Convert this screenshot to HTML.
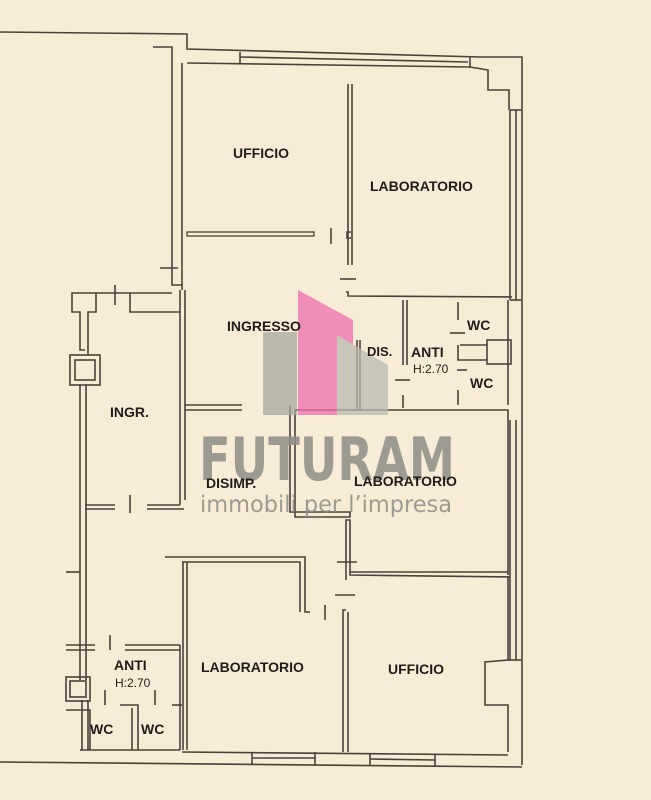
<!DOCTYPE html>
<html><head><style>
html,body{margin:0;padding:0;background:#f8ecd6;}
svg{display:block;}
text{font-family:"Liberation Sans",Arial,sans-serif;}
</style></head><body>
<svg width="651" height="800" viewBox="0 0 651 800">
<rect width="651" height="800" fill="#f8ecd6"/>
<g fill="none" stroke="#4e4038" stroke-width="1.6">
<polyline points="0,32 187,34 187,49 480,57 522,57 522,765"/>
<polyline points="153,47 172,47 172,285 182,285 182,290"/>
<polyline points="187,63 470,67 488,70 488,90 509,90 509,110"/>
<line x1="240" y1="52" x2="240" y2="64"/>
<line x1="240" y1="57" x2="468" y2="62"/>
<line x1="470" y1="57" x2="470" y2="67"/>
<line x1="182" y1="63" x2="182" y2="285"/>
<line x1="510" y1="110" x2="510" y2="300"/>
<line x1="516" y1="110" x2="516" y2="300"/>
<line x1="510" y1="110" x2="522" y2="110"/>
<line x1="510" y1="300" x2="522" y2="300"/>
<line x1="508" y1="300" x2="508" y2="405"/>
<line x1="510" y1="420" x2="510" y2="660"/>
<line x1="516" y1="420" x2="516" y2="660"/>
<line x1="508" y1="660" x2="522" y2="660"/>
<line x1="348" y1="84" x2="348" y2="265"/>
<line x1="352" y1="84" x2="352" y2="265"/>
<polyline points="346,292 348,292 348,296 512,297"/>
<line x1="340" y1="279" x2="356" y2="279"/>
<line x1="331" y1="228" x2="331" y2="244"/>
<polyline points="351,232 347,232 347,238 351,238"/>
<rect x="187" y="232" width="127" height="4" stroke-width="1.3"/>
<line x1="160" y1="268" x2="178" y2="268"/>
<line x1="185" y1="290" x2="185" y2="500"/>
<line x1="180" y1="290" x2="180" y2="505"/>
<polyline points="172,293 72,293 72,312 80,312 80,350 85,350"/>
<polyline points="96,293 96,312 88,312 88,355"/>
<line x1="115" y1="285" x2="115" y2="305"/>
<polyline points="130,293 130,312 180,312"/>
<rect x="70" y="355" width="30" height="30"/>
<rect x="75" y="360" width="20" height="20"/>
<line x1="80" y1="385" x2="80" y2="680"/>
<line x1="86" y1="385" x2="86" y2="680"/>
<line x1="82" y1="700" x2="82" y2="750"/>
<line x1="88" y1="700" x2="88" y2="750"/>
<rect x="66" y="677" width="24" height="24"/>
<rect x="70" y="681" width="16" height="16"/>
<line x1="85" y1="505" x2="115" y2="505"/>
<line x1="85" y1="509" x2="115" y2="509"/>
<line x1="130" y1="495" x2="130" y2="513"/>
<line x1="147" y1="505" x2="180" y2="505"/>
<line x1="147" y1="509" x2="184" y2="509"/>
<line x1="66" y1="572" x2="80" y2="572"/>
<line x1="66" y1="645" x2="95" y2="645"/>
<line x1="66" y1="650" x2="95" y2="650"/>
<line x1="110" y1="635" x2="110" y2="650"/>
<line x1="125" y1="645" x2="180" y2="645"/>
<line x1="125" y1="650" x2="180" y2="650"/>
<line x1="105" y1="690" x2="105" y2="705"/>
<line x1="155" y1="690" x2="155" y2="705"/>
<polyline points="66,710 90,710 90,750"/>
<line x1="80" y1="750" x2="180" y2="750"/>
<polyline points="120,705 138,705 138,750"/>
<line x1="132" y1="708" x2="132" y2="750"/>
<line x1="172" y1="705" x2="182" y2="705"/>
<line x1="180" y1="645" x2="180" y2="750"/>
<line x1="185" y1="405" x2="242" y2="405"/>
<line x1="185" y1="410" x2="242" y2="410"/>
<polyline points="165,557 305,557 305,612 310,612"/>
<polyline points="182,562 300,562 300,612"/>
<line x1="183" y1="562" x2="183" y2="750"/>
<line x1="187" y1="562" x2="187" y2="750"/>
<line x1="325" y1="605" x2="325" y2="620"/>
<line x1="335" y1="595" x2="355" y2="595"/>
<polyline points="346,610 343,610 343,752"/>
<line x1="348" y1="612" x2="348" y2="752"/>
<polyline points="290,405 290,512 350,512 350,517 295,517 295,410 508,410 508,575"/>
<line x1="337" y1="562" x2="357" y2="562"/>
<polyline points="346,580 346,520 350,520 350,575 510,577"/>
<line x1="350" y1="572" x2="508" y2="572"/>
<polyline points="508,577 508,660 485,662 485,705 508,705 508,752"/>
<line x1="182" y1="752" x2="508" y2="755"/>
<polyline points="0,762 522,767"/>
<line x1="252" y1="752" x2="252" y2="765"/>
<line x1="315" y1="752" x2="315" y2="765"/>
<line x1="252" y1="758" x2="315" y2="758"/>
<line x1="370" y1="753" x2="370" y2="766"/>
<line x1="435" y1="754" x2="435" y2="767"/>
<line x1="370" y1="759" x2="435" y2="760"/>
<line x1="360" y1="340" x2="360" y2="410"/>
<line x1="357" y1="340" x2="357" y2="410"/>
<line x1="403" y1="300" x2="403" y2="365"/>
<line x1="407" y1="300" x2="407" y2="365"/>
<line x1="395" y1="380" x2="410" y2="380"/>
<line x1="458" y1="302" x2="458" y2="320"/>
<line x1="450" y1="333" x2="465" y2="333"/>
<rect x="487" y="340" width="24" height="24"/>
<polyline points="458,345 458,360 487,360"/>
<polyline points="460,345 487,345"/>
<line x1="457" y1="370" x2="467" y2="370"/>
<line x1="458" y1="390" x2="458" y2="405"/>
<line x1="403" y1="395" x2="403" y2="408"/>
</g>
<g opacity="0.75">
<rect x="263" y="332" width="34" height="83" fill="#a8a9a0"/>
<polygon points="298,290 353,320 353,415 298,415" fill="#ee6fb0"/>
<polygon points="337,335 388,365 388,415 337,415" fill="#b8b9b0"/>
</g>
<text x="199" y="480" font-size="60" font-weight="bold" fill="#8e8e86" opacity="0.85" textLength="256" lengthAdjust="spacingAndGlyphs" style="font-family:'DejaVu Sans Condensed','DejaVu Sans',sans-serif">FUTURAM</text>
<text x="200" y="512" font-size="23" fill="#8e8e86" opacity="0.85" textLength="252" lengthAdjust="spacingAndGlyphs" style="font-family:'DejaVu Sans Condensed','DejaVu Sans',sans-serif">immobili per l’impresa</text>
<g fill="#221c18" font-size="14" font-weight="bold">
<text x="233" y="158">UFFICIO</text>
<text x="370" y="191">LABORATORIO</text>
<text x="227" y="331">INGRESSO</text>
<text x="367" y="356" font-size="13">DIS.</text>
<text x="411" y="357">ANTI</text>
<text x="467" y="330">WC</text>
<text x="470" y="388">WC</text>
<text x="110" y="417">INGR.</text>
<text x="206" y="488">DISIMP.</text>
<text x="354" y="486">LABORATORIO</text>
<text x="201" y="672">LABORATORIO</text>
<text x="388" y="674">UFFICIO</text>
<text x="114" y="670">ANTI</text>
<text x="90" y="734">WC</text>
<text x="141" y="734">WC</text>
</g>
<g fill="#221c18" font-size="12">
<text x="413" y="373">H:2.70</text>
<text x="115" y="687">H:2.70</text>
</g>
</svg>
</body></html>
